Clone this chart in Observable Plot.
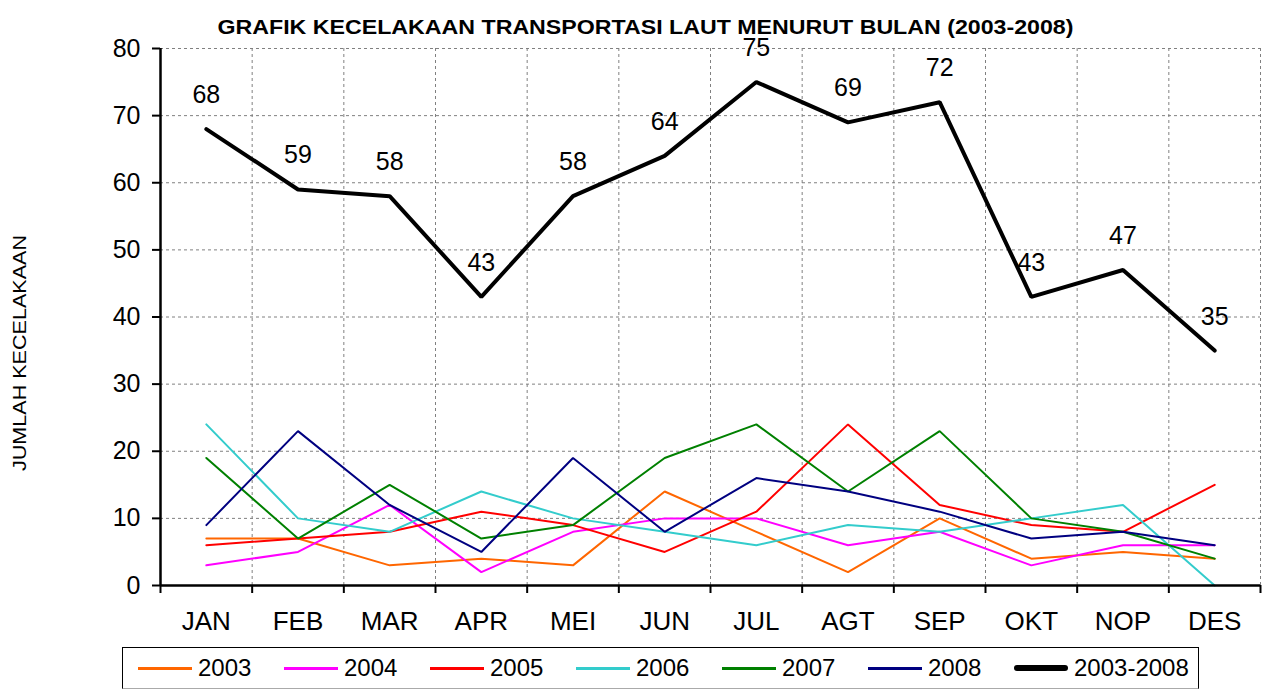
<!DOCTYPE html>
<html>
<head>
<meta charset="utf-8">
<script src="https://cdn.jsdelivr.net/npm/d3@7"></script>
<script src="https://cdn.jsdelivr.net/npm/@observablehq/plot@0.6"></script>
<style>
  body { margin: 0; background: #fff; font-family: "Liberation Sans", Arial, sans-serif; }
  #wrap { position: relative; width: 1267px; height: 691px; overflow: hidden; }
  #legend { position: absolute; left: 122px; top: 647px; width: 1077px; height: 42px;
            border: 1px solid #000; border-bottom-color: #aaa; box-sizing: border-box; }
  .item { position: absolute; top: 0; height: 40px; display: flex; align-items: center; font-size: 24px; color: #000; }
  .sw { width: 54px; margin-right: 6px; }
</style>
</head>
<body>
<div id="wrap"><div id="chart"></div><div id="legend"></div></div>
<script>
const months = ["JAN","FEB","MAR","APR","MEI","JUN","JUL","AGT","SEP","OKT","NOP","DES"];
const s2003 = [7,7,3,4,3,14,8,2,10,4,5,4];
const s2004 = [3,5,12,2,8,10,10,6,8,3,6,6];
const s2005 = [6,7,8,11,9,5,11,24,12,9,8,15];
const s2006 = [24,10,8,14,10,8,6,9,8,10,12,0];
const s2007 = [19,7,15,7,9,19,24,14,23,10,8,4];
const s2008 = [9,23,12,5,19,8,16,14,11,7,8,6];
const total = [68,59,58,43,58,64,75,69,72,43,47,35];
const yTicks = [0,10,20,30,40,50,60,70,80];
const seriesNames = ["2003","2004","2005","2006","2007","2008","2003-2008"];
const seriesValues = [s2003,s2004,s2005,s2006,s2007,s2008,total];
const seriesColors = ["#FF6600","#FF00FF","#FF0000","#33CCCC","#008000","#000080","#000000"];
const seriesWidths = [2,2,2,2,2,2,4];

const idx = d3.range(months.length);
const boundaries = d3.range(months.length + 1).map(i => i - 0.5);
const rows = seriesNames.flatMap((name, s) => seriesValues[s].map((v, i) => ({series: name, i, v})));
const totalRows = rows.filter(d => d.series === "2003-2008");

const font = "'Liberation Sans', Arial, sans-serif";
const marks = [
  Plot.gridY(yTicks.filter(d => d > 0), {stroke: "#808080", strokeOpacity: 1, strokeDasharray: "3,3"}),
  Plot.gridX(boundaries.slice(1), {stroke: "#808080", strokeOpacity: 1, strokeDasharray: "3,3"}),
];
seriesNames.forEach((name, s) => {
  marks.push(Plot.line(rows.filter(d => d.series === name), {
    x: "i", y: "v", stroke: seriesColors[s], strokeWidth: seriesWidths[s], strokeLinejoin: "miter"
  }));
});
marks.push(
  Plot.text(totalRows, {x: "i", y: "v", text: d => String(d.v), dy: -34, fontSize: 25, fill: "#000"}),
  Plot.ruleX([-0.5], {stroke: "#000", strokeWidth: 2.5}),
  Plot.ruleY([0], {stroke: "#000", strokeWidth: 2.5}),
  Plot.axisY(yTicks, {tickSize: 8, tickPadding: 12, fontSize: 25, stroke: "#000", strokeWidth: 2, fill: "#000", label: null}),
  Plot.axisX(idx, {tickSize: 0, tickPadding: 26, fontSize: 26, fill: "#000", tickFormat: i => months[i], label: null}),
  Plot.axisX(boundaries, {tickSize: 8, tickFormat: () => "", stroke: "#000", strokeWidth: 2, label: null}),
  Plot.text(["GRAFIK KECELAKAAN TRANSPORTASI LAUT MENURUT BULAN (2003-2008)"], {
    frameAnchor: "top-left", textAnchor: "start", dx: 57, dy: -29, fontSize: 20, fontWeight: "bold", fill: "#000"
  }),
  Plot.text(["JUMLAH KECELAKAAN"], {
    frameAnchor: "left", textAnchor: "start", dx: -140, dy: 154, rotate: -90, fontSize: 18, fill: "#000"
  })
);

const chart = Plot.plot({
  width: 1267,
  height: 645,
  marginTop: 48,
  marginBottom: 60,
  marginLeft: 160,
  marginRight: 7,
  style: {fontFamily: font, background: "#fff", color: "#000", overflow: "visible"},
  x: {domain: [-0.5, 11.5], axis: null},
  y: {domain: [0, 80], axis: null},
  marks
});
d3.select(chart).selectAll("text").each(function() {
  const t = this.textContent;
  if (t.startsWith("GRAFIK")) d3.select(this).attr("textLength", 856).attr("lengthAdjust", "spacingAndGlyphs");
  if (t === "JUMLAH KECELAKAAN") d3.select(this).attr("textLength", 236).attr("lengthAdjust", "spacingAndGlyphs");
});
document.getElementById("chart").appendChild(chart);

const legend = d3.select("#legend");
seriesNames.forEach((name, s) => {
  const item = legend.append("div").attr("class", "item").style("left", (15 + s * 146) + "px");
  item.append("div").attr("class", "sw")
    .style("height", (s === 6 ? 6 : 3) + "px")
    .style("border-radius", s === 6 ? "3px" : "0")
    .style("background", seriesColors[s]);
  item.append("span").text(name);
});
</script>
</body>
</html>
